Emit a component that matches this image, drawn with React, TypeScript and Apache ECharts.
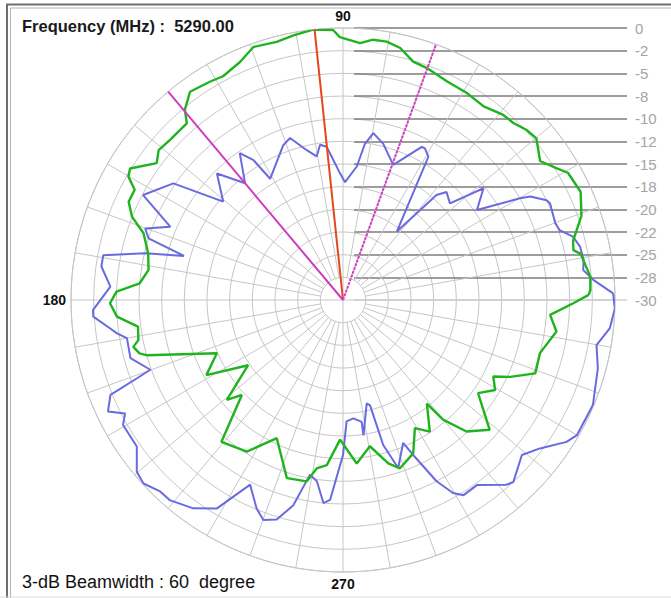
import React, { useEffect, useRef } from "react";
import * as echarts from "echarts";

const FONT = '"Liberation Sans", Arial, sans-serif';

const frequencyText = "Frequency (MHz) :  5290.00";
const beamwidthText = "3-dB Beamwidth : 60  degree";

// radius tick labels, from -30 (centre) to 0 (outer ring)
const radiusTickLabels = ["-30", "-28", "-25", "-22", "-20", "-18", "-15", "-12", "-10", "-8", "-5", "-2", "0"];
const angleTickLabels = ["", "90", "180", "270"];

// [angle deg, level dB]
const greenPattern: [number, number][] = [
  [1.2, -2.9], [2.3, -2.7], [5.4, -2.6], [11, -3.3], [12.2, -4.0], [14.4, -3.8], [19.5, -2.1], [24.5, -1.2],
  [29.5, -1.5], [31.6, -2.3], [35.2, -3.4], [39.9, -2.2], [42.8, -2.4], [46.1, -2.9], [49.1, -3.0], [54, -3.6],
  [59.1, -3.4], [64.6, -3.3], [70.1, -2.8], [73.6, -2.6], [77.2, -1.5], [80.4, -1.1], [83.4, -1.1], [86.2, -1.6],
  [90.7, -1.0], [92.1, -0.2], [96.3, 0], [100.6, -0.3], [104.4, -0.6], [109.5, -0.4], [113.4, -1.4], [118.2, -2.0],
  [121.4, -1.8], [126.3, -1.5], [129.7, -2.7], [131.5, -4.0], [137.2, -4.0], [140.9, -3.8], [143.7, -4.5],
  [148.3, -2.4], [150.1, -2.7], [152.1, -4.0], [155.4, -4.0], [158.5, -5.0], [161.5, -6.8], [166.5, -7.9],
  [171.2, -8.3], [175.3, -7.5], [177.9, -5.0], [180.8, -4.3], [184.2, -5.0], [187.4, -7.2], [191.1, -7.0],
  [192.6, -6.3], [194.7, -6.8], [195.7, -7.5], [202.9, -14.9], [208.8, -12.8], [214.5, -17.3], [220.7, -13.1],
  [223.2, -14.7], [229.4, -9.4], [237.6, -10.2], [244.4, -13.1], [252.5, -9.4], [258.7, -9.6], [261.1, -11.2],
  [264.4, -11.7], [268.8, -14.6], [274.8, -11.9], [280.4, -13.6], [285.5, -11.3], [288.7, -10.4], [294.6, -11.4],
  [299.3, -13.8], [303.4, -12.6], [309, -15.3], [309.9, -12.8], [313.2, -10.1], [318.5, -8.4], [325.4, -11.9],
  [329.4, -10.5], [333, -11.4], [335.3, -9.7], [339.1, -7.3], [344.9, -7.5], [351.6, -6.2], [355.9, -7.1],
  [359.2, -4.6], [1.2, -2.9],
];

const bluePattern: [number, number][] = [
  [1.4, -0.2], [4.6, -2.3], [7.1, -3.3], [9.5, -3.1], [12.7, -3.2], [15.4, -3.7], [17.9, -4.9], [19.9, -5.1],
  [25, -4.8], [26.1, -5.0], [28.9, -6.4], [29.9, -7.5], [33.9, -12.2], [38.5, -10.2], [42.1, -14.1], [46.2, -13.5],
  [48.3, -14.5], [51.8, -20.4], [59.2, -11.6], [61.6, -11.0], [62.8, -11.0], [69.6, -14.1], [75.6, -12.2],
  [79.7, -11.3], [82, -12.6], [84.1, -15.2], [89, -17.0], [91.4, -16.0], [94, -14.5], [96.1, -13.0], [98.4, -12.7],
  [100.4, -13.9], [103.6, -13.0], [108.1, -11.2], [111.1, -11.7], [121, -14.4], [122.6, -11.7], [125.1, -10.2],
  [130, -13.2], [134.9, -10.3], [140.6, -12.9], [145.5, -7.3], [152.3, -5.1], [157, -9.3], [160.1, -6.8],
  [162.4, -7.5], [164.5, -11.8], [166.7, -7.6], [169.4, -3.1], [172.1, -3.1], [176.7, -4.3], [182.3, -2.4],
  [183.8, -2.4], [186.9, -4.1], [188.4, -4.8], [190, -5.8], [195.3, -5.7], [199.9, -7.4], [200.8, -5.7],
  [202.2, -2.3], [205.4, -1.3], [207.5, -2.9], [209.6, -2.1], [215.4, -2.1], [219.8, -0.4], [222.6, -0.1],
  [226.3, -0.8], [229.1, -0.8], [234.3, -1.7], [238.8, -3.1], [243.3, -7.2], [247.5, -5.1], [250.1, -4.2],
  [253.2, -4.7], [256.4, -6.7], [259.3, -10.4], [261.8, -9.8], [264.5, -7.5], [266.3, -7.9], [270, -12.9],
  [271.7, -16.6], [275, -16.9], [278.7, -16.4], [278.6, -14.9], [282.9, -18.3], [284.4, -18.0], [285.5, -13.4],
  [288.2, -10.5], [292.8, -12.9], [294.4, -11.2], [297.3, -7.5], [299.7, -5.5], [301.7, -4.7], [305.9, -4.8],
  [311.5, -2.8], [313.1, -2.5], [319.1, -3.9], [323, -2.8], [327.6, -0.8], [330, -0.2], [337.2, -0.1],
  [345, -0.9], [349.9, -1.6], [354, -0.4], [358.2, 0], [1.4, -0.2],
];

// marker lines: [angle, outer level dB]
const peakLine: [number, number] = [96, 2.7];
const beamLeftLine: [number, number] = [130, 0.9];
const beamRightLine: [number, number] = [70, 0.9];

const spokeAngles = [0, 10, 20, 30, 40, 50, 60, 70, 80, 90, 100, 110, 120, 130, 140, 150, 160, 170,
  180, 190, 200, 210, 220, 230, 240, 250, 260, 270, 280, 290, 300, 310, 320, 330, 340, 350];
const mainSpokes = [0, 90, 180, 270];

const GRID = "#c6c6c6";

export default function App() {
  const ref = useRef<HTMLDivElement>(null);
  useEffect(() => {
    const chart = echarts.init(ref.current as HTMLDivElement, null, { renderer: "svg" });
    const toData = (p: [number, number][]) => p.map(([a, d]) => [d, a]);

    const spokeSeries = spokeAngles.map((a) => ({
      type: "line",
      coordinateSystem: "polar",
      silent: true,
      symbol: "none",
      z: 1,
      clip: false,
      lineStyle: { color: GRID, width: 1 },
      data: [[mainSpokes.includes(a) ? -30 : -27.5, a], [0, a]],
    }));

    const markerSeries = (ln: [number, number], color: string, type: any) => ({
      type: "line",
      coordinateSystem: "polar",
      silent: true,
      symbol: "none",
      clip: false,
      z: 5,
      lineStyle: { color, width: 2, type },
      data: [[-30, ln[0]], [ln[1], ln[0]]],
    });

    chart.setOption({
      animation: false,
      backgroundColor: "#ffffff",
      polar: { center: [343, 300], radius: 272 },
      angleAxis: {
        type: "value",
        min: 0,
        max: 360,
        interval: 90,
        startAngle: 0,
        clockwise: false,
        axisLine: { show: true, lineStyle: { color: GRID, width: 1 } },
        axisTick: { show: false },
        splitLine: { show: false },
        axisLabel: {
          margin: 5,
          color: "#111",
          fontWeight: "bold",
          fontSize: 14,
          fontFamily: FONT,
          formatter: (v: number) => angleTickLabels[Math.round(v / 90) % 4],
        },
      },
      radiusAxis: {
        type: "value",
        min: -30,
        max: 0,
        interval: 2.5,
        axisLine: { show: false },
        axisTick: { show: false },
        axisLabel: { show: false },
        splitLine: { show: true, lineStyle: { color: GRID, width: 1 } },
      },
      grid: { left: 354, top: 28, width: 273, height: 272 },
      xAxis: { type: "value", min: 0, max: 1, show: false },
      yAxis: {
        type: "value",
        min: -30,
        max: 0,
        interval: 2.5,
        position: "right",
        axisLine: { show: false },
        axisTick: { show: false },
        axisLabel: {
          margin: 8,
          color: "#a4a4a4",
          fontSize: 15,
          fontFamily: FONT,
          formatter: (v: number) => radiusTickLabels[Math.round((v + 30) / 2.5)],
        },
        splitLine: {
          show: true,
          lineStyle: {
            width: 1.5,
            color: ["#d0d0d0", "#7c7c7c", "#7c7c7c", "#7c7c7c", "#7c7c7c", "#7c7c7c", "#7c7c7c",
              "#7c7c7c", "#7c7c7c", "#7c7c7c", "#7c7c7c", "#7c7c7c", "#7c7c7c"],
          },
        },
      },
      series: [
        ...spokeSeries,
        {
          type: "line",
          coordinateSystem: "polar",
          symbol: "none",
          z: 3,
          lineStyle: { color: "#6a6ae0", width: 2 },
          data: toData(bluePattern),
        },
        {
          type: "line",
          coordinateSystem: "polar",
          symbol: "none",
          z: 4,
          lineStyle: { color: "#1fb41f", width: 2.4 },
          data: toData(greenPattern),
        },
        markerSeries(peakLine, "#e6461c", "solid"),
        markerSeries(beamLeftLine, "#d03cc0", "solid"),
        markerSeries(beamRightLine, "#d040c4", [3, 1]),
      ],
      graphic: [
        { type: "rect", z: 100, shape: { x: 7, y: 4.5, width: 700, height: 620 }, style: { fill: "none", stroke: "#6e6e6e", lineWidth: 2 } },
        { type: "rect", z: 100, shape: { x: 10.5, y: 8, width: 700, height: 620 }, style: { fill: "none", stroke: "#b4b4b4", lineWidth: 1 } },
        { type: "line", z: 100, shape: { x1: 0, y1: 597, x2: 671, y2: 597 }, style: { stroke: "#dcdcdc", lineWidth: 1 } },
        { type: "text", z: 100, left: 22, top: 17, style: { text: frequencyText, font: `bold 16.5px ${FONT}`, fill: "#1a1a1a" } },
        { type: "text", z: 100, left: 22, top: 573, style: { text: beamwidthText, font: `18px ${FONT}`, fill: "#111" } },
      ],
    });
    return () => chart.dispose();
  }, []);
  return (
    <div
      ref={ref}
      style={{ position: "fixed", left: 0, top: 0, width: 671, height: 598, background: "#fff" }}
    />
  );
}
